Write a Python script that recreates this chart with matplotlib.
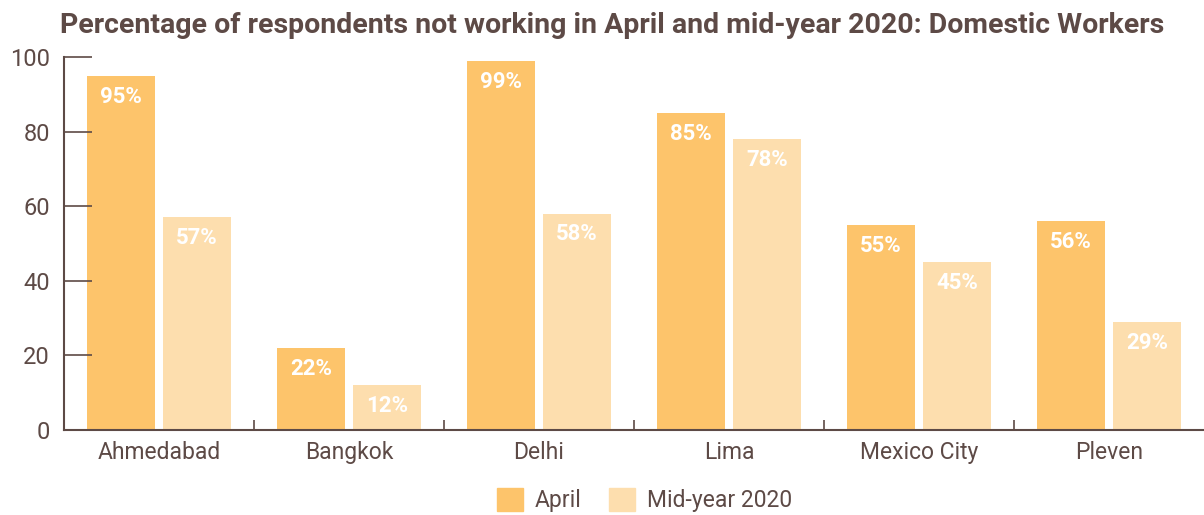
import matplotlib.pyplot as plt
import numpy as np
from matplotlib.patches import Patch
from matplotlib.ticker import FixedLocator

cities = ["Ahmedabad", "Bangkok", "Delhi", "Lima", "Mexico City", "Pleven"]
april = [95, 22, 99, 85, 55, 56]
mid_year = [57, 12, 58, 78, 45, 29]
series_names = ["April", "Mid-year 2020"]

brown = "#5d4a46"
col_april = "#fdc46b"
col_mid = "#fddeae"

plt.rcParams["font.family"] = ["Roboto", "DejaVu Sans"]

fig = plt.figure(figsize=(12.04, 5.15), dpi=100)
ax = fig.add_axes([0.053, 0.165, 0.947, 0.724])

x = np.arange(len(cities))
bar_width = 0.36
offset = 0.2

bars1 = ax.bar(x - offset, april, bar_width, color=col_april)
bars2 = ax.bar(x + offset, mid_year, bar_width, color=col_mid)

for bars, vals in [(bars1, april), (bars2, mid_year)]:
    for b, v in zip(bars, vals):
        ax.annotate(f"{v}%", (b.get_x() + b.get_width() / 2, v),
                    xytext=(0, -7), textcoords="offset points",
                    ha="center", va="top", color="white",
                    fontsize=16, fontweight="bold")

ax.set_xlim(-0.5, len(cities) - 0.5)
ax.set_ylim(0, 100)
ax.set_xticks(x)
ax.set_xticklabels(cities)
ax.xaxis.set_minor_locator(FixedLocator(np.arange(0.5, len(cities) - 0.5, 1)))
ax.tick_params(axis="x", which="major", length=0, pad=8, labelsize=16.5, labelcolor=brown)
ax.tick_params(axis="x", which="minor", direction="in", length=7, width=1.2, color=brown)
ax.set_yticks([0, 20, 40, 60, 80, 100])
ax.tick_params(axis="y", direction="in", length=20, width=1.2, color=brown,
               pad=10, labelsize=17, labelcolor=brown)

for side in ["top", "right"]:
    ax.spines[side].set_visible(False)
for side in ["left", "bottom"]:
    ax.spines[side].set_color(brown)
    ax.spines[side].set_linewidth(1.5)

fig.text(0.05, 0.95, "Percentage of respondents not working in April and mid-year 2020: Domestic Workers",
         fontsize=20.5, fontweight="bold", color=brown, va="center", ha="left")

handles = [Patch(color=col_april), Patch(color=col_mid)]
leg = fig.legend(handles, series_names, loc="lower center", bbox_to_anchor=(0.535, -0.035),
                 ncol=2, frameon=False, fontsize=16.5, handlelength=1.15, handleheight=1.15,
                 handletextpad=0.5, columnspacing=1.2)
for t in leg.get_texts():
    t.set_color(brown)

fig.savefig("out.png", dpi=100)
